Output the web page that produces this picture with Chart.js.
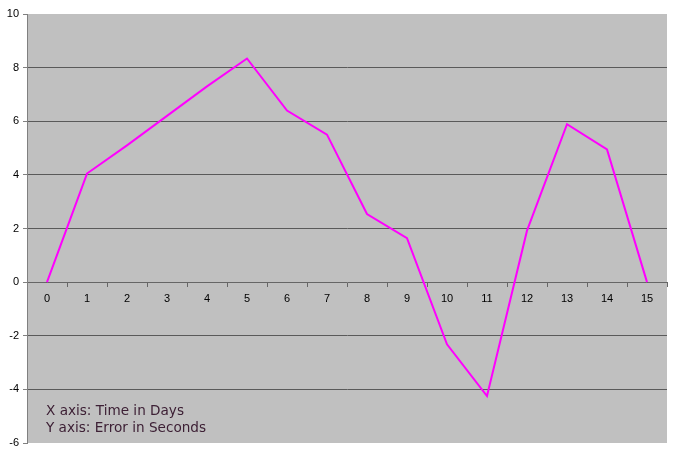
<!DOCTYPE html>
<html>
<head>
<meta charset="utf-8">
<script src="https://cdn.jsdelivr.net/npm/chart.js@4"></script>
<style>
  html, body { margin: 0; padding: 0; background: #fff; }
  #wrap { width: 675px; height: 456px; }
</style>
</head>
<body>
<div id="wrap"><canvas id="error-chart"></canvas></div>
<script>
// days along the x axis
const days = ["0", "1", "2", "3", "4", "5", "6", "7", "8", "9", "10", "11", "12", "13", "14", "15"];
// clock error in seconds
const errorSeconds = [0, 4.05, 5.1, 6.2, 7.3, 8.34, 6.4, 5.5, 2.54, 1.64, -2.32, -4.25, 1.92, 5.89, 4.95, 0];
const yTicks = [-6, -4, -2, 0, 2, 4, 6, 8, 10];
const noteLines = ["X axis: Time in Days", "Y axis: Error in Seconds"];

/* ============================================= */
/*               Plot area + notes               */
/* ============================================= */
const plotBackground = {
  id: "plotBackground",
  beforeDraw(chart) {
    const { ctx, chartArea: a } = chart;
    ctx.save();
    ctx.fillStyle = "#c0c0c0";
    ctx.fillRect(a.left, a.top, a.right - a.left, a.bottom - a.top);
    ctx.restore();
  },
};

const axisNotes = {
  id: "axisNotes",
  afterDraw(chart) {
    const { ctx, chartArea: a } = chart;
    ctx.save();
    ctx.fillStyle = "#3d2035";
    ctx.font = "13.6px 'DejaVu Sans', Verdana, sans-serif";
    ctx.textBaseline = "alphabetic";
    noteLines.forEach((line, i) => {
      ctx.fillText(line, a.left + 19, 415 + i * 17);
    });
    ctx.restore();
  },
};

/* ============================================= */
/*                  Chart                        */
/* ============================================= */
const errorChart = new Chart(document.querySelector("#error-chart"), {
  type: "line",
  data: {
    labels: days,
    datasets: [
      {
        label: "Error",
        data: errorSeconds,
        borderColor: "#ff00ff",
        borderWidth: 2,
        pointRadius: 0,
        tension: 0,
        fill: false,
      },
    ],
  },
  options: {
    responsive: true,
    maintainAspectRatio: false,
    animation: false,
    layout: { padding: { top: 14, right: 8, bottom: 13, left: 0 } },
    plugins: {
      legend: { display: false },
      tooltip: { enabled: false },
    },
    scales: {
      x: {
        type: "category",
        position: { y: 0 },
        offset: true,
        grid: {
          offset: true,
          drawOnChartArea: false,
          drawTicks: true,
          tickLength: 4,
          color: "#666",
        },
        border: { display: true, color: "#666", width: 1 },
        ticks: {
          color: "#000",
          padding: 6,
          maxRotation: 0,
          autoSkip: false,
          font: { family: "'Liberation Sans', Arial, sans-serif", size: 11 },
        },
      },
      y: {
        min: -6,
        max: 10,
        afterBuildTicks: (scale) => {
          scale.ticks = yTicks.map((v) => ({ value: v }));
        },
        afterFit: (scale) => {
          scale.width = 27;
        },
        grid: {
          color: (c) => (c.tick && (c.tick.value === 10 || c.tick.value === -6 || c.tick.value === 0) && c.type === "tick" ? "rgba(0,0,0,0)" : "#5a5a5a"),
          tickColor: "#808080",
          tickLength: 4,
          lineWidth: 1,
        },
        border: { display: true, color: "#808080", width: 1 },
        ticks: {
          color: "#000",
          padding: 4,
          font: { family: "'Liberation Sans', Arial, sans-serif", size: 11 },
        },
      },
    },
  },
  plugins: [plotBackground, axisNotes],
});
</script>
</body>
</html>
